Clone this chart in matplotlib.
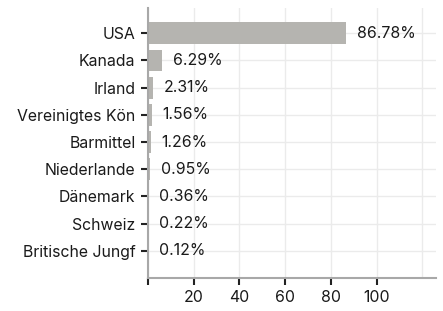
import matplotlib
matplotlib.use('Agg')
import matplotlib.pyplot as plt

plt.rcParams['font.family'] = ['Inter', 'DejaVu Sans']

# Daten
laender = ['USA', 'Kanada', 'Irland', 'Vereinigtes Kön', 'Barmittel',
           'Niederlande', 'Dänemark', 'Schweiz', 'Britische Jungf']
anteile = [86.78, 6.29, 2.31, 1.56, 1.26, 0.95, 0.36, 0.22, 0.12]
x_ticks = [0, 20, 40, 60, 80, 100]
x_labels = ['', '20', '40', '60', '80', '100']

fig = plt.figure(figsize=(4.43, 3.11), dpi=100)
ax = fig.add_axes([148 / 443, 1 - 278 / 311, (436 - 148) / 443, (278 - 8) / 311])

pos = list(range(len(laender)))
ax.barh(pos, anteile, height=0.8, color='#b5b4b0', zorder=2)

for p, v in zip(pos, anteile):
    ax.annotate(f'{v:.2f}%', (v, p), xytext=(7.5, 0), textcoords='offset points',
                va='center', ha='left', fontsize=11.4, color='#1a1a1a')

ax.set_yticks(pos)
ax.set_yticklabels(laender, fontsize=11.4)
ax.set_xticks(x_ticks)
ax.set_xticklabels(x_labels, fontsize=11.4)
ax.set_xlim(0, 126)
ax.set_ylim(9, -0.93)

# Gitter
ax.grid(True, color='#ebebeb', linewidth=1, zorder=0)
ax.axvline(120, color='#ebebeb', linewidth=1, zorder=0)
ax.set_axisbelow(True)

for s in ['top', 'right']:
    ax.spines[s].set_visible(False)
for s in ['left', 'bottom']:
    ax.spines[s].set_color('#a8a8a8')
    ax.spines[s].set_linewidth(1.5)

ax.tick_params(axis='both', length=5, width=1.5, color='#222222', labelcolor='#1a1a1a', pad=4)

fig.savefig('out.png', dpi=100, facecolor='white')
